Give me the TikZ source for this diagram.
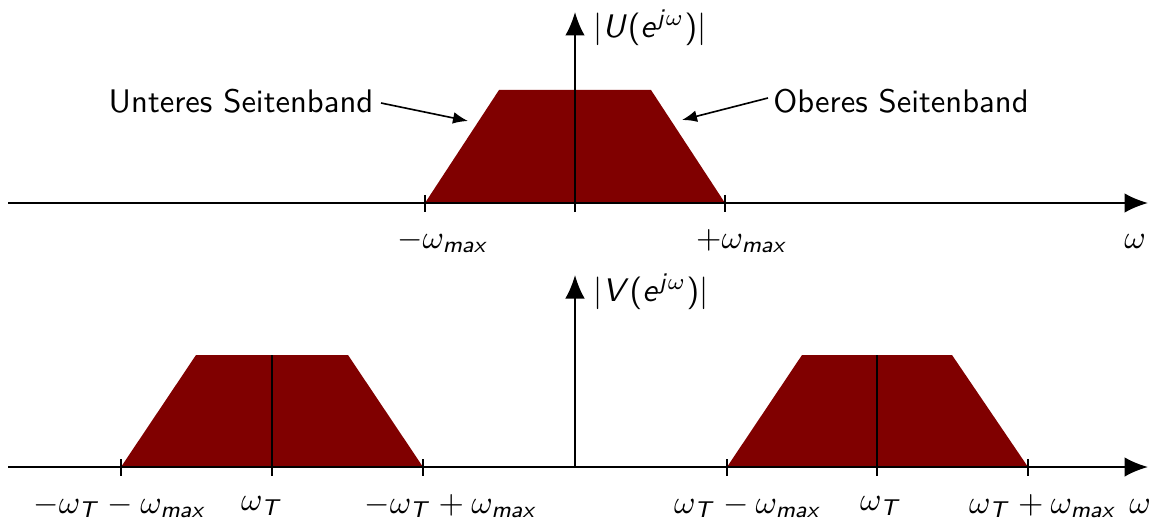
\documentclass[tikz,border=0pt]{standalone}
\usetikzlibrary{arrows.meta}
\renewcommand{\familydefault}{\sfdefault}
\DeclareSymbolFont{sfletters}{OT1}{cmss}{m}{sl}
\DeclareSymbolFont{sfops}{OT1}{cmss}{m}{n}
\DeclareMathSymbol{U}{\mathalpha}{sfletters}{`U}
\DeclareMathSymbol{V}{\mathalpha}{sfletters}{`V}
\DeclareMathSymbol{T}{\mathalpha}{sfletters}{`T}
\DeclareMathSymbol{e}{\mathalpha}{sfletters}{`e}
\DeclareMathSymbol{j}{\mathalpha}{sfletters}{`j}
\DeclareMathSymbol{m}{\mathalpha}{sfletters}{`m}
\DeclareMathSymbol{a}{\mathalpha}{sfletters}{`a}
\DeclareMathSymbol{x}{\mathalpha}{sfletters}{`x}
\DeclareMathDelimiter{(}{\mathopen}{sfops}{"28}{largesymbols}{"00}
\DeclareMathDelimiter{)}{\mathclose}{sfops}{"29}{largesymbols}{"01}
\begin{document}
\begin{tikzpicture}[x=0.3064pt,y=-0.3064pt,
  axis/.style={line width=0.62pt,-{Latex[length=7.2pt,width=6pt]}},
  band/.style={fill={rgb,255:red,128;green,0;blue,0},draw=none},
  tick/.style={line width=0.5pt},
  pointer/.style={line width=0.5pt,-{Latex[length=4.6pt,width=3.6pt]}},
  lbl/.style={inner sep=0pt,font=\sffamily\fontsize{10}{12}\selectfont}]
\useasboundingbox (0,0) rectangle (1156,522);
% ---- top spectrum
\fill[band] (425,203) -- (499,90) -- (651,90) -- (725,203) -- cycle;
\coordinate (ta0) at (8,203);
\coordinate (ta1) at (1148,203);
\coordinate (tv0) at (575,212);
\coordinate (tv1) at (575,12);
\draw[axis] (ta0) -- (ta1);
\draw[axis] (tv0) -- (tv1);
\draw[tick] (425,195) -- (425,212);
\draw[tick] (725,195) -- (725,212);
\node[lbl] (lmneg) at (443,241) {$-\omega_{max}$};
\node[lbl] (lmpos) at (742,241) {$+\omega_{max}$};
\node[lbl] (lw1) at (1135,241) {$\omega$};
\node[lbl] (lU) at (650,28) {$|U(e^{j\omega})|$};
\node[lbl] (lus) at (241,101) {Unteres Seitenband};
\node[lbl] (los) at (901,101) {Oberes Seitenband};
\coordinate (us0) at (381,103);
\coordinate (usp) at (468,121);
\coordinate (os0) at (768,98);
\coordinate (osp) at (682,120);
\draw[pointer] (us0) -- (usp);
\draw[pointer] (os0) -- (osp);
% ---- bottom spectrum
\fill[band] (121,467) -- (196,355) -- (348,355) -- (423,467) -- cycle;
\fill[band] (727,467) -- (802,355) -- (952,355) -- (1028,467) -- cycle;
\coordinate (ba0) at (8,467);
\coordinate (ba1) at (1148,467);
\coordinate (bv0) at (575,467);
\coordinate (bv1) at (575,275);
\draw[axis] (ba0) -- (ba1);
\draw[axis] (bv0) -- (bv1);
\draw[tick] (272,355) -- (272,476);
\draw[tick] (877,355) -- (877,476);
\foreach \x in {121,423,727,1028} \draw[tick] (\x,459) -- (\x,476);
\node[lbl] (b1) at (120,506) {$-\omega_T-\omega_{max}$};
\node[lbl] (b2) at (262,506) {$\omega_T$};
\node[lbl] (b3) at (451,506) {$-\omega_T+\omega_{max}$};
\node[lbl] (b4) at (748,506) {$\omega_T-\omega_{max}$};
\node[lbl] (b5) at (881,506) {$\omega_T$};
\node[lbl] (b6) at (1043,506) {$\omega_T+\omega_{max}$};
\node[lbl] (lw2) at (1140,506) {$\omega$};
\node[lbl] (lV) at (651,292) {$|V(e^{j\omega})|$};
\end{tikzpicture}
\end{document}
